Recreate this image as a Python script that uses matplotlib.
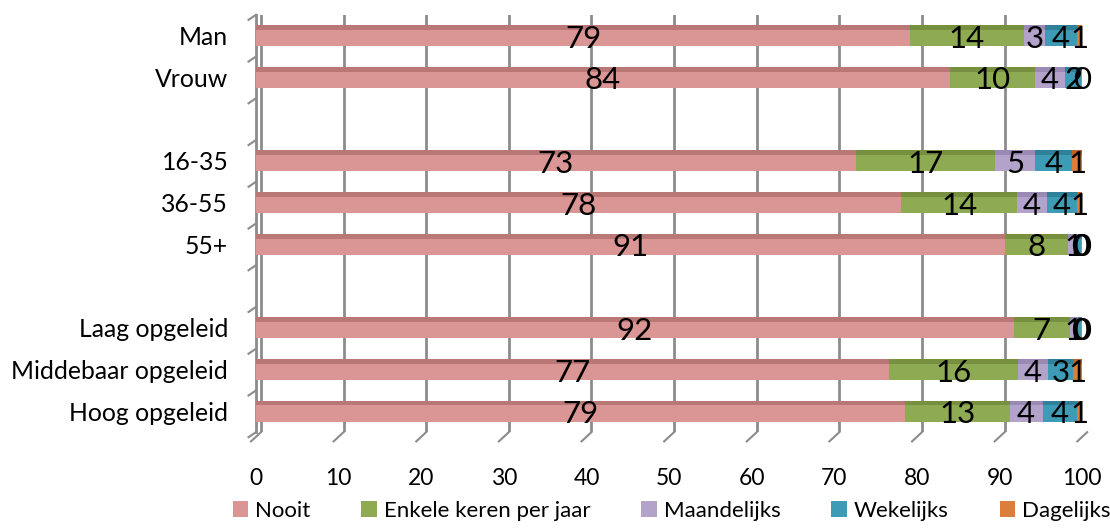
import matplotlib
matplotlib.use("Agg")
import matplotlib.pyplot as plt
import numpy as np
from matplotlib.patches import Patch
from matplotlib.lines import Line2D

categories = ["Man", "Vrouw", "", "16-35", "36-55", "55+", "", "Laag opgeleid", "Middebaar opgeleid", "Hoog opgeleid"]
series_names = ["Nooit", "Enkele keren per jaar", "Maandelijks", "Wekelijks", "Dagelijks"]
nooit = [79.2, 84.0, None, 72.6, 78.1, 90.6, None, 91.7, 76.6, 78.6]
enkele = [13.7, 10.3, None, 16.8, 14.0, 7.7, None, 6.8, 15.6, 12.6]
maandelijks = [2.6, 3.6, None, 4.9, 3.6, 1.2, None, 1.0, 3.6, 4.0]
wekelijks = [3.9, 2.0, None, 4.5, 3.7, 0.4, None, 0.4, 3.1, 4.2]
dagelijks = [0.6, 0.1, None, 1.2, 0.6, 0.1, None, 0.1, 1.1, 0.6]
xticks = [0, 10, 20, 30, 40, 50, 60, 70, 80, 90, 100]

colors = ["#D99694", "#8EAA52", "#B3A2C9", "#3E9BB5", "#DC7D3A"]
top_colors = ["#B97876", "#76903F", "#9A89B2", "#2E8199", "#BC6428"]

plt.rcParams['font.family'] = ['Lato', 'DejaVu Sans']
fig = plt.figure(figsize=(11.10, 5.29), dpi=100)
ax = fig.add_axes([0.2306, 0.183, 0.975 - 0.2306, 0.972 - 0.183])

series = [nooit, enkele, maandelijks, wekelijks, dagelijks]
n = len(categories)
ypos = np.arange(n)
bh = 0.50
left = np.zeros(n)
valid = np.array([v is not None for v in nooit])

for s, c, tc in zip(series, colors, top_colors):
    vals = np.array([v if v is not None else 0 for v in s], dtype=float)
    ax.barh(ypos[valid], vals[valid], left=left[valid], height=bh, color=c, zorder=3)
    ax.barh(ypos[valid] - bh / 2 + 0.055, vals[valid], left=left[valid], height=0.11, color=tc, zorder=3)
    for i in range(n):
        if valid[i]:
            ax.text(left[i] + vals[i] / 2, ypos[i] + 0.07, f"{vals[i]:.0f}", ha="center", va="center",
                    fontsize=22.5, color="black", zorder=5)
    left = left + vals

ax.set_xlim(0, 100)
ax.set_ylim(n - 0.5, -0.5)
ax.set_xticks(xticks)
ax.set_xticklabels([str(t) for t in xticks], fontsize=16.5)
ax.set_yticks(ypos)
ax.set_yticklabels(categories, fontsize=17.8)
ax.tick_params(axis="both", length=0)
ax.tick_params(axis="y", pad=20)
ax.tick_params(axis="x", pad=26)
for sp in ["top", "right", "bottom"]:
    ax.spines[sp].set_visible(False)
ax.spines["left"].set_color("#8C8C8C")
ax.spines["left"].set_linewidth(2)
for t in xticks:
    ax.axvline(t + 0.6, color="#8C8C8C", lw=2, zorder=1)

trans = ax.transData
for t in xticks:
    ax.add_line(Line2D([t + 0.6, t - 0.6], [n - 0.5, n - 0.5 + 0.22], color="#8C8C8C", lw=1.5,
                       clip_on=False, transform=trans))
for b in np.arange(-0.5, n, 1.0):
    ax.add_line(Line2D([0, -0.9], [b, b + 0.12], color="#8C8C8C", lw=1.5, clip_on=False, transform=trans))

handles = [Patch(facecolor=c, edgecolor="none") for c in colors]
fig.legend(handles, series_names, loc="center", bbox_to_anchor=(0.605, 0.034), ncol=5, frameon=False,
           fontsize=16, handlelength=0.7, handleheight=0.7, handletextpad=0.3, columnspacing=2.3)

fig.savefig("out.png", dpi=100)
